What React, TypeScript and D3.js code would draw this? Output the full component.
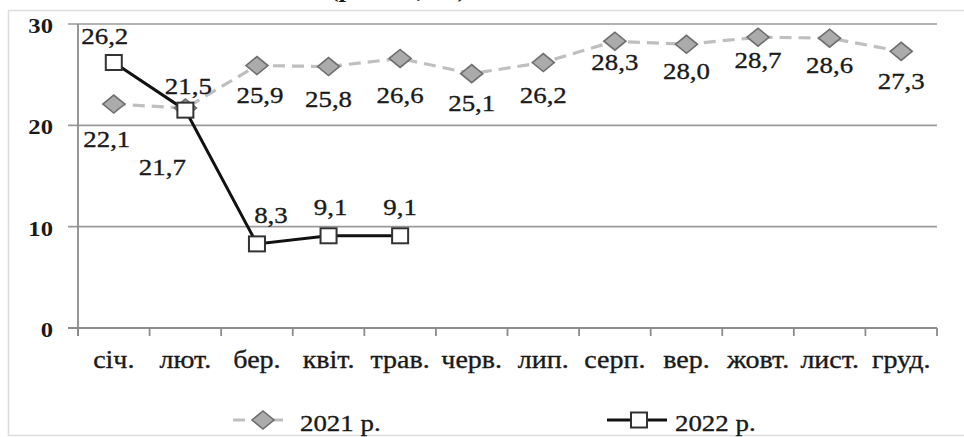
import React from "react";
import * as d3 from "d3";

const months = ["січ.", "лют.", "бер.", "квіт.", "трав.", "черв.", "лип.", "серп.", "вер.", "жовт.", "лист.", "груд."];
const values2021 = [22.1, 21.7, 25.9, 25.8, 26.6, 25.1, 26.2, 28.3, 28.0, 28.7, 28.6, 27.3];
const values2022 = [26.2, 21.5, 8.3, 9.1, 9.1];
const yTicks = [0, 10, 20, 30];
const seriesNames = ["2021 р.", "2022 р."];

// label nudges (styling only)
const dx2021 = [-7, -23, 3, 0, 0, 0, 0, 0, 0, 0, 0, 0];
const dy2021 = [43, 67, 37, 40, 45, 37, 40, 29, 35, 31, 35, 38];
const dx2022 = [-9, 3, 14, 2, 0];
const dy2022 = [-19, -16, -21, -21, -21];

const FONT = "Liberation Serif, Times New Roman, Times, DejaVu Serif, serif";
const SX = 1.12;
const fmt = (v: number) => v.toFixed(1).replace(".", ",");

function T({ x, y, children, size = 24, anchor = "middle", weight = "normal", fill = "#1a1a1a", sw = 0.35 }: any) {
  return (
    <text
      transform={`translate(${x},${y}) scale(${SX},1)`}
      textAnchor={anchor}
      style={{ fontFamily: FONT, fontSize: size + "px", fontWeight: weight }}
      fill={fill}
      stroke={fill}
      strokeWidth={sw}
    >
      {children}
    </text>
  );
}

export default function App() {
  const W = 964, H = 437;
  const x = d3.scaleBand<string>().domain(months).range([78, 937]).padding(0);
  const y = d3.scaleLinear().domain([0, 30]).range([328, 24]);
  const cx = (i: number) => (x(months[i]) as number) + x.bandwidth() / 2;

  const line = d3.line<number>().x((_, i) => cx(i)).y((d) => y(d));
  const diamond = (px: number, py: number) => `M${px - 11},${py} L${px},${py - 9} L${px + 11},${py} L${px},${py + 9} Z`;

  const boundaries = [...months.map((m) => x(m) as number), 937];

  return (
    <svg width={W} height={H} style={{ position: "absolute", left: 0, top: 0, background: "#fff" }}>
      <rect x={0} y={0} width={W} height={H} fill="#fff" />
      {/* outer frame */}
      <rect x={8.5} y={10.5} width={980} height={425} fill="none" stroke="#dcdcdc" strokeWidth={1.5} />
      {/* cut-off title (as in the reference) */}
      <T x={398} y={-3} size={24} weight="bold" sw={0}>(рівень, %)</T>

      {/* gridlines */}
      {yTicks.filter((t) => t > 0).map((t) => (
        <line key={t} x1={68} x2={937} y1={y(t)} y2={y(t)} stroke="#9a9a9a" strokeWidth={1.6} />
      ))}
      {/* x axis */}
      <line x1={68} x2={937} y1={y(0)} y2={y(0)} stroke="#8c8c8c" strokeWidth={1.8} />
      {boundaries.map((b, i) => (
        <line key={i} x1={b} x2={b} y1={y(0)} y2={y(0) + 8} stroke="#8c8c8c" strokeWidth={1.8} />
      ))}
      {/* y axis */}
      <line x1={78} x2={78} y1={y(30)} y2={y(0) + 8} stroke="#8c8c8c" strokeWidth={1.8} />

      {/* y tick labels */}
      {yTicks.map((t) => (
        <T key={t} x={53} y={y(t) + 9} size={22} anchor="end" weight="bold" sw={0}>{t}</T>
      ))}

      {/* category labels */}
      {months.map((m, i) => (
        <T key={m} x={cx(i)} y={368} size={25}>{m}</T>
      ))}

      {/* 2021 series */}
      <path d={line(values2021) || ""} fill="none" stroke="#bfbfbf" strokeWidth={3.2} strokeDasharray="12,7" />
      {values2021.map((v, i) => (
        <path key={i} d={diamond(cx(i), y(v))} fill="#ababab" stroke="#6e6e6e" strokeWidth={1.6} />
      ))}

      {/* 2022 series */}
      <path d={line(values2022) || ""} fill="none" stroke="#111" strokeWidth={3} />
      {values2022.map((v, i) => (
        <rect key={i} x={cx(i) - 8} y={y(v) - 7.5} width={16} height={15} fill="#fff" stroke="#333" strokeWidth={2} />
      ))}

      {/* data labels */}
      {values2021.map((v, i) => (
        <T key={"a" + i} x={cx(i) + dx2021[i]} y={y(v) + dy2021[i]}>{fmt(v)}</T>
      ))}
      {values2022.map((v, i) => (
        <T key={"b" + i} x={cx(i) + dx2022[i]} y={y(v) + dy2022[i]}>{fmt(v)}</T>
      ))}

      {/* legend */}
      <line x1={233} x2={290} y1={420} y2={420} stroke="#bfbfbf" strokeWidth={3.2} strokeDasharray="12,7" />
      <path d={diamond(263, 420)} fill="#ababab" stroke="#6e6e6e" strokeWidth={1.6} />
      <T x={300} y={431} size={24} anchor="start">{seriesNames[0]}</T>

      <line x1={607} x2={667} y1={420} y2={420} stroke="#111" strokeWidth={3} />
      <rect x={631} y={412.5} width={16} height={15} fill="#fff" stroke="#333" strokeWidth={2} />
      <T x={675} y={431} size={24} anchor="start">{seriesNames[1]}</T>
    </svg>
  );
}
